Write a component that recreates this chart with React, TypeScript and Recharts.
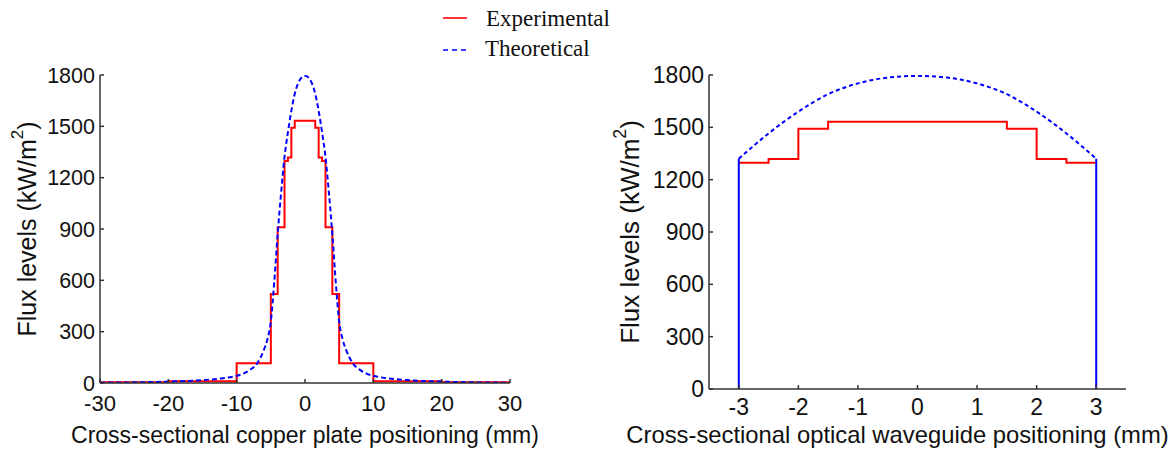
import React from "react";
import { LineChart, Line, XAxis, YAxis, Label } from "recharts";

// ---------- Data ----------
// Left chart: copper plate
const plateExpX = [-30, -20, -10, -5, -4, -3, -2.5, -2, -1.5, 1.5, 2, 2.5, 3, 4, 5, 10, 20, 30];
const plateExpY = [4, 10, 115, 520, 910, 1297, 1318, 1492, 1532, 1492, 1318, 1297, 910, 520, 115, 10, 4, 4];

const plateTheoX = [-30, -25, -20, -15, -12, -10, -9, -8, -7, -6, -5.5, -5, -4.5, -4, -3.5, -3, -2.5, -2, -1.5, -1, -0.5, 0,
  0.5, 1, 1.5, 2, 2.5, 3, 3.5, 4, 4.5, 5, 5.5, 6, 7, 8, 9, 10, 12, 15, 20, 25, 30];
const plateTheoY = [2, 4, 8, 17, 28, 42, 55, 78, 115, 195, 255, 360, 590, 870, 1110, 1320, 1465, 1590, 1690, 1752, 1785, 1795,
  1785, 1752, 1690, 1590, 1465, 1320, 1110, 870, 590, 360, 255, 195, 115, 78, 55, 42, 28, 17, 8, 4, 2];

// Right chart: optical waveguide
const guideExpX = [-3, -2.5, -2, -1.5, 1.5, 2, 2.5, 3];
const guideExpY = [1297, 1318, 1492, 1532, 1492, 1318, 1297, 1297];

const guideTheoX = [-3, -2.5, -2, -1.5, -1, -0.5, 0, 0.5, 1, 1.5, 2, 2.5, 3];
const guideTheoY = [1320, 1465, 1590, 1690, 1752, 1785, 1795, 1785, 1752, 1690, 1590, 1465, 1320];

const guideEdgeLeftX = [-3, -3];
const guideEdgeLeftY = [0, 1320];
const guideEdgeRightX = [3, 3];
const guideEdgeRightY = [0, 1320];

const plateXTicks = [-30, -20, -10, 0, 10, 20, 30];
const guideXTicks = [-3, -2, -1, 0, 1, 2, 3];
const fluxTicks = [0, 300, 600, 900, 1200, 1500, 1800];

const legendLabels = ["Experimental", "Theoretical"];
const xLabelPlate = "Cross-sectional copper plate positioning (mm)";
const xLabelGuide = "Cross-sectional optical waveguide positioning (mm)";

const zip = (xs: number[], ys: number[]) => xs.map((x, i) => ({ x, y: ys[i] }));

const plateExp = zip(plateExpX, plateExpY);
const plateTheo = zip(plateTheoX, plateTheoY);
const guideExp = zip(guideExpX, guideExpY);
const guideTheo = zip(guideTheoX, guideTheoY);
const guideEdgeL = zip(guideEdgeLeftX, guideEdgeLeftY);
const guideEdgeR = zip(guideEdgeRightX, guideEdgeRightY);

// ---------- Styles ----------
const SANS = "'Liberation Sans', Arial, sans-serif";
const SERIF = "'Liberation Serif', 'Times New Roman', serif";
const AXIS = "#333";
const TEXT = "#111";
const RED = "#ff0000";
const BLUE = "#0000ff";

const tickStyle = (size: number) => ({ fontSize: size, fill: TEXT, fontFamily: SANS });

const YLabel = (props: any) => {
  const vb = props.viewBox;
  const cx = vb.x + props.xoff;
  const cy = vb.y + vb.height / 2;
  const fs = props.fs;
  return (
    <text
      x={cx}
      y={cy}
      transform={`rotate(-90, ${cx}, ${cy})`}
      textAnchor="middle"
      dominantBaseline="central"
      fontSize={fs}
      fontFamily={SANS}
      fill={TEXT}
    >
      Flux levels (kW/m<tspan dy={-fs * 0.4} fontSize={fs * 0.68}>2</tspan><tspan dy={fs * 0.4}>)</tspan>
    </text>
  );
};

const XLabel = (props: any) => {
  const vb = props.viewBox;
  return (
    <text
      x={vb.x + vb.width / 2 + props.dx}
      y={vb.y + props.yoff}
      textAnchor="middle"
      fontSize={props.fs}
      fontFamily={SANS}
      fill={TEXT}
    >
      {props.text}
    </text>
  );
};

export default function App() {
  return (
    <div style={{ position: "absolute", left: 0, top: 0, width: 1176, height: 450, background: "#fff", overflow: "hidden" }}>
      {/* Legend */}
      <svg width={1176} height={70} style={{ position: "absolute", left: 0, top: 0 }}>
        <line x1={443} y1={18} x2={467} y2={18} stroke={RED} strokeWidth={1.6} />
        <text x={486} y={26} fontFamily={SERIF} fontSize={23} fill={TEXT}>{legendLabels[0]}</text>
        <line x1={443} y1={50} x2={467} y2={50} stroke={BLUE} strokeWidth={1.6} strokeDasharray="5 4" />
        <text x={485} y={56} fontFamily={SERIF} fontSize={23} fill={TEXT}>{legendLabels[1]}</text>
      </svg>

      {/* Left chart */}
      <div style={{ position: "absolute", left: 0, top: 0 }}>
        <LineChart width={560} height={450} margin={{ top: 75, right: 50, bottom: 0, left: 0 }}>
          <XAxis
            dataKey="x"
            type="number"
            domain={[-30, 30]}
            ticks={plateXTicks}
            allowDataOverflow
            height={67}
            tickSize={-4}
            tickMargin={16}
            stroke={AXIS}
            strokeWidth={1.5}
            tick={tickStyle(22)}
            tickLine={{ stroke: AXIS }}
          >
            <Label content={<XLabel dx={0} yoff={60} fs={23} text={xLabelPlate} />} />
          </XAxis>
          <YAxis
            dataKey="y"
            type="number"
            domain={[0, 1800]}
            ticks={fluxTicks}
            allowDataOverflow
            width={100}
            tickSize={-4}
            tickMargin={9}
            stroke={AXIS}
            strokeWidth={1.5}
            tick={tickStyle(21.5)}
            tickLine={{ stroke: AXIS }}
          >
            <Label content={<YLabel xoff={27} fs={25} />} />
          </YAxis>
          <Line data={plateExp} dataKey="y" type="stepAfter" stroke={RED} strokeWidth={2} dot={false} isAnimationActive={false} />
          <Line data={plateTheo} dataKey="y" type="monotone" stroke={BLUE} strokeWidth={2} strokeDasharray="5 3" dot={false} isAnimationActive={false} />
        </LineChart>
      </div>

      {/* Right chart */}
      <div style={{ position: "absolute", left: 600, top: 0 }}>
        <LineChart width={576} height={450} margin={{ top: 75, right: 50, bottom: 0, left: 0 }}>
          <XAxis
            dataKey="x"
            type="number"
            domain={[-3.5, 3.5]}
            ticks={guideXTicks}
            allowDataOverflow
            height={61}
            tickSize={-4}
            tickMargin={14}
            stroke={AXIS}
            strokeWidth={1.5}
            tick={tickStyle(23)}
            tickLine={{ stroke: AXIS }}
          >
            <Label content={<XLabel dx={-20} yoff={54} fs={23.8} text={xLabelGuide} />} />
          </XAxis>
          <YAxis
            dataKey="y"
            type="number"
            domain={[0, 1800]}
            ticks={fluxTicks}
            allowDataOverflow
            width={109}
            tickSize={-4}
            tickMargin={9}
            stroke={AXIS}
            strokeWidth={1.5}
            tick={tickStyle(23)}
            tickLine={{ stroke: AXIS }}
          >
            <Label content={<YLabel xoff={30} fs={26} />} />
          </YAxis>
          <Line data={guideExp} dataKey="y" type="stepAfter" stroke={RED} strokeWidth={2} dot={false} isAnimationActive={false} />
          <Line data={guideTheo} dataKey="y" type="monotone" stroke={BLUE} strokeWidth={2} strokeDasharray="4 3" dot={false} isAnimationActive={false} />
          <Line data={guideEdgeL} dataKey="y" type="linear" stroke={BLUE} strokeWidth={2} dot={false} isAnimationActive={false} />
          <Line data={guideEdgeR} dataKey="y" type="linear" stroke={BLUE} strokeWidth={2} dot={false} isAnimationActive={false} />
        </LineChart>
      </div>
    </div>
  );
}
